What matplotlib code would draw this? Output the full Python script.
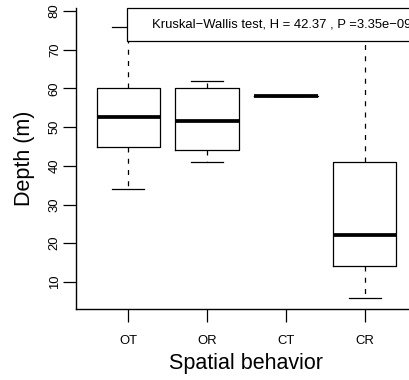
import matplotlib
matplotlib.use('Agg')
import matplotlib.pyplot as plt
from matplotlib.patches import Rectangle

plt.rcParams['font.family'] = ['Liberation Sans', 'DejaVu Sans']

# data
groups = ['OT', 'OR', 'CT', 'CR']
whis_lo = [34.0, 41.0, 58.0, 5.9]
q1 = [45.0, 44.0, 58.0, 14.1]
medians = [52.6, 51.6, 58.0, 22.1]
q3 = [60.0, 60.0, 58.0, 41.0]
whis_hi = [76.0, 62.0, 58.0, 78.0]
yticks = [10, 20, 30, 40, 50, 60, 70, 80]
legend_text = 'Kruskal\u2212Wallis test, H = 42.37 , P =3.35e\u221209'

stats = []
for i in range(len(groups)):
    stats.append({'label': groups[i], 'whislo': whis_lo[i], 'q1': q1[i],
                  'med': medians[i], 'q3': q3[i], 'whishi': whis_hi[i], 'fliers': []})

fig = plt.figure(figsize=(4.1, 3.8), dpi=100)
W, H = 410, 380
ax = fig.add_axes([76 / W, 71 / H, 341 / W, 301 / H])

pos = list(range(1, len(groups) + 1))
ax.bxp(stats, positions=pos, widths=0.8, capwidths=0.4, patch_artist=False,
       boxprops=dict(color='black', linewidth=0.9),
       whiskerprops=dict(color='black', linewidth=0.9, linestyle=(0, (4, 5))),
       capprops=dict(color='black', linewidth=0.9),
       medianprops=dict(color='black', linewidth=2.7, solid_capstyle='butt'))

ax.set_xlim(0.34, 4.66)
ax.set_ylim(3.0, 80.8)
ax.set_xticks(pos)
ax.set_xticklabels(groups)
ax.set_yticks(yticks)

for s in ['top', 'right']:
    ax.spines[s].set_visible(False)
for s in ['left', 'bottom']:
    ax.spines[s].set_linewidth(1.0)

ax.tick_params(axis='both', direction='out', length=9.4, width=0.9, labelsize=9.4)
ax.tick_params(axis='x', pad=9)
ax.tick_params(axis='y', pad=1.5)
for lab in ax.get_yticklabels():
    lab.set_rotation(90)
    lab.set_va('center')
    lab.set_ha('right')

ax.set_xlabel('Spatial behavior', fontsize=15.5)
ax.set_ylabel('Depth (m)', fontsize=15.5)
ax.xaxis.set_label_coords(0.5, -0.146)
ax.yaxis.set_label_coords(-0.120, 0.5)

# legend box in the top right corner
box_left = (127 - 76) / 341
box_bottom = (309 - 41) / 301
ax.add_patch(Rectangle((box_left, box_bottom), 1 - box_left, 1 - box_bottom,
                       transform=ax.transAxes, facecolor='white', edgecolor='black',
                       linewidth=0.9, clip_on=False, zorder=5))
ax.text((152 - 76) / 341, (309 - 24.5) / 301, legend_text, transform=ax.transAxes,
        ha='left', va='center', fontsize=9.4, zorder=6)

fig.savefig('out.png', dpi=100)
